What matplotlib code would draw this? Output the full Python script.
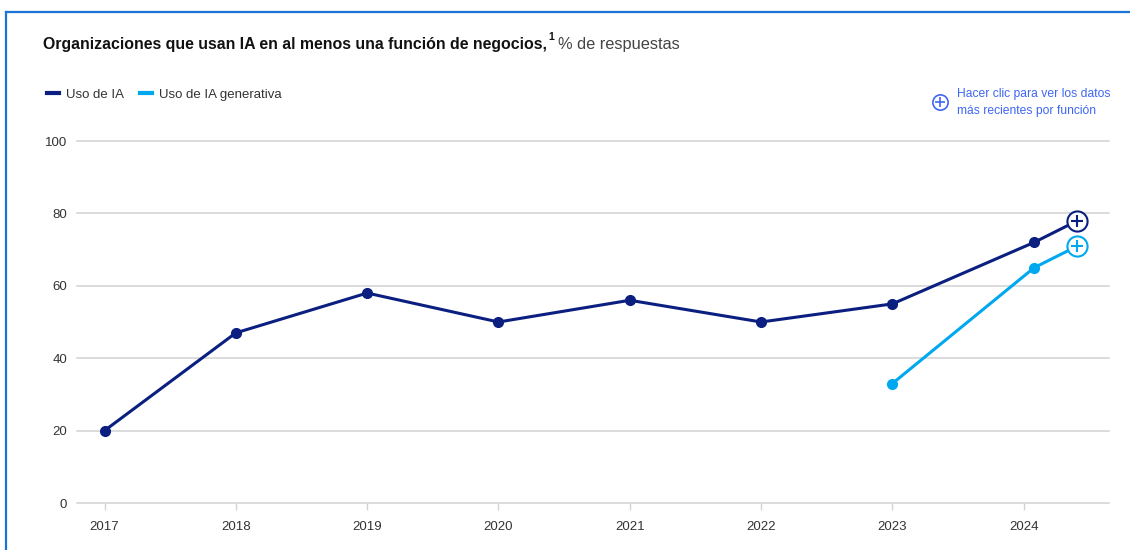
import matplotlib.pyplot as plt
from matplotlib.lines import Line2D

plt.rcParams['font.family'] = ['Liberation Sans', 'DejaVu Sans']

# Puntos de la encuesta (año con fracción para las dos olas de 2024)
x_ia = [2017, 2018, 2019, 2020, 2021, 2022, 2023, 2024.08, 2024.41]
uso_ia = [20, 47, 58, 50, 56, 50, 55, 72, 78]
x_gen = [2023, 2024.08, 2024.41]
uso_gen = [33, 65, 71]
years = [2017, 2018, 2019, 2020, 2021, 2022, 2023, 2024]
yticks = [0, 20, 40, 60, 80, 100]

navy = '#0b1f80'
cyan = '#00a8f0'
link_blue = '#3f66f4'
gray_txt = '#333333'

W, H = 1130, 550
fig = plt.figure(figsize=(W / 100, H / 100), dpi=100)
ax = fig.add_axes([77 / W, 1 - 503 / H, (1109 - 77) / W, (503 - 141) / H])
ax.set_xlim(2016.79, 2024.65)
ax.set_ylim(0, 100)
for s in ax.spines.values():
    s.set_visible(False)

for v in yticks:
    ax.axhline(v, color='#d2d2d2', lw=1.1, zorder=1, clip_on=False)

ax.set_xticks(years)
ax.set_xticklabels([str(y) for y in years])
ax.set_yticks(yticks)
ax.tick_params(axis='x', length=5, width=1, color='#d2d2d2', pad=8,
               labelsize=9.5, labelcolor=gray_txt)
ax.tick_params(axis='y', length=0, pad=7, labelsize=9.5, labelcolor=gray_txt)

# series
ax.plot(x_ia, uso_ia, color=navy, lw=2.2, zorder=3, solid_capstyle='round')
ax.plot(x_ia[:-1], uso_ia[:-1], 'o', color=navy, ms=7, zorder=4)
ax.plot(x_gen, uso_gen, color=cyan, lw=2.2, zorder=3, solid_capstyle='round')
ax.plot(x_gen[:-1], uso_gen[:-1], 'o', color=cyan, ms=7, zorder=4)

# marcadores finales con signo +
for xs, ys, c in [(x_ia, uso_ia, navy), (x_gen, uso_gen, cyan)]:
    ax.plot(xs[-1], ys[-1], 'o', ms=14.5, mfc='white', mec=c, mew=1.5,
            zorder=5, clip_on=False)
    ax.plot(xs[-1], ys[-1], '+', ms=9, mec=c, mew=1.5, zorder=6, clip_on=False)

# título en tres tramos
t1 = fig.text(43 / W, 1 - 44 / H, 'Organizaciones que usan IA en al menos una función de negocios,',
              fontsize=11.45, fontweight='bold', color='#111111', va='center')
t2 = ax.annotate('1', xy=(1, 0.6), xycoords=t1, fontsize=7.5, fontweight='bold',
                 color='#111111', va='bottom', xytext=(1, 0), textcoords='offset points')
ax.annotate('% de respuestas', xy=(1, 0), xycoords=(t2, t1), fontsize=11.8,
            color='#444444', va='bottom', xytext=(3, 0), textcoords='offset points')

# leyenda
handles = [Line2D([], [], color=navy, lw=3), Line2D([], [], color=cyan, lw=3)]
fig.legend(handles, ['Uso de IA', 'Uso de IA generativa'], loc='center left',
           bbox_to_anchor=(35 / W, 1 - 95 / H), ncol=2, frameon=False,
           fontsize=9.5, handlelength=0.9, handletextpad=0.55, columnspacing=1.2,
           labelcolor=gray_txt)

# enlace a datos por función
fig.text(957 / W, 1 - 94 / H, 'Hacer clic para ver los datos', fontsize=8.7,
         color=link_blue, va='center')
fig.text(957 / W, 1 - 111 / H, 'más recientes por función', fontsize=8.7,
         color=link_blue, va='center')
fig.add_artist(Line2D([940 / W], [1 - 102 / H], marker='o', ms=11, mfc='none',
                      mec=link_blue, mew=1.2))
fig.add_artist(Line2D([940 / W], [1 - 102 / H], marker='+', ms=7,
                      mec=link_blue, mew=1.2))

# marco superior e izquierdo
frame_c = '#1a74d6'
fig.add_artist(Line2D([6 / W, 1], [1 - 12 / H] * 2, color=frame_c, lw=1.6))
fig.add_artist(Line2D([6 / W] * 2, [1 - 12 / H, 0], color=frame_c, lw=1.6))

fig.savefig('out.png', dpi=100, facecolor='white')
